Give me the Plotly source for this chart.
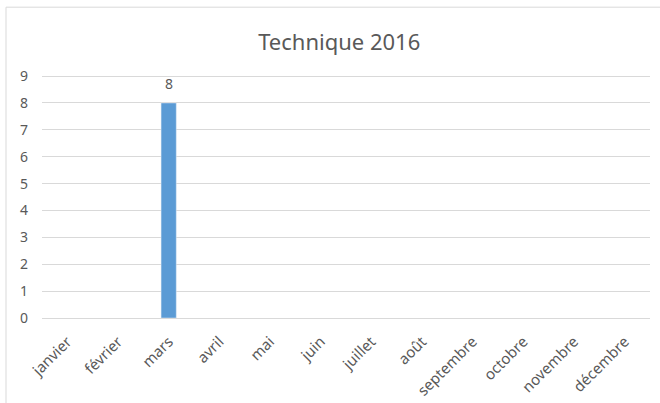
import plotly.graph_objects as go

months = ["janvier", "février", "mars", "avril", "mai", "juin", "juillet",
          "août", "septembre", "octobre", "novembre", "décembre"]
counts = [None, None, 8, None, None, None, None, None, None, None, None, None]

TXT = "#595959"

fig = go.Figure()
fig.add_trace(
    go.Bar(
        x=months, y=counts,
        marker_color="#5B9BD5",
        hoverinfo="x+y",
    )
)

# data labels above the bars
for m, v in zip(months, counts):
    if v is None:
        continue
    fig.add_annotation(
        x=m, y=v, text=str(v),
        showarrow=False, yanchor="bottom", yshift=8,
        font=dict(size=14, color=TXT),
    )

# outer chart border (Excel chart area frame)
fig.add_shape(
    type="path", xref="paper", yref="paper",
    path="M -0.0592,-0.4 L -0.0592,1.279 L 1.05,1.279",
    line=dict(color="#D9D9D9", width=1),
)

fig.update_layout(
    width=660, height=403,
    margin=dict(l=42, r=10, t=75, b=85),
    plot_bgcolor="white",
    paper_bgcolor="white",
    font=dict(family="Noto Sans, sans-serif", color=TXT, size=13),
    title=dict(
        text="Technique 2016",
        x=0.514, xanchor="center",
        y=0.896, yanchor="middle",
        font=dict(size=22, color=TXT),
    ),
    bargap=0.7,
    showlegend=False,
)
fig.update_xaxes(
    tickangle=-45,
    showgrid=False,
    showline=False,
    ticks="",
    ticklabelstandoff=11,
    automargin=False,
    tickfont=dict(size=15, color=TXT),
)
fig.update_yaxes(
    range=[0, 9.04],
    tickvals=list(range(10)),
    showgrid=True,
    gridcolor="#D9D9D9",
    gridwidth=1,
    zeroline=True,
    zerolinecolor="#D9D9D9",
    zerolinewidth=1,
    ticks="",
    ticklabelstandoff=13,
    automargin=False,
    tickfont=dict(size=14, color=TXT),
)

# drop the default 8px page margin so the figure sits flush in the window
fig.write_html(
    "out.html",
    config={"displayModeBar": False},
    post_script="document.body.style.margin='0';",
)
